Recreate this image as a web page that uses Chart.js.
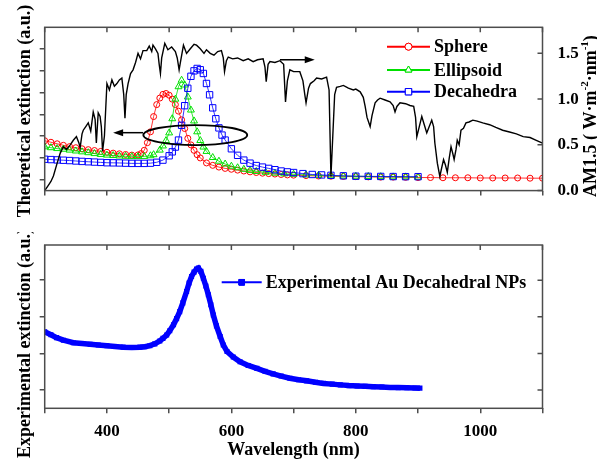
<!DOCTYPE html>
<html>
<head>
<meta charset="utf-8">
<script src="https://cdn.jsdelivr.net/npm/chart.js@4.4.1/dist/chart.umd.min.js"></script>
<style>
html, body { margin: 0; padding: 0; background: #fff; }
#wrap { position: relative; width: 597px; height: 464px; }
canvas { position: absolute; left: 0; }
#top { top: 0; }
#bottom { top: 232px; }
</style>
</head>
<body>
<div id="wrap">
<canvas id="top" width="597" height="232"></canvas>
<canvas id="bottom" width="597" height="232"></canvas>
</div>
<script>
'use strict';

// ---- data ----
const sphereNm  = [300, 310, 320, 330, 340, 350, 360, 370, 380, 390, 400, 410, 420, 430, 440, 450, 455, 460, 465, 470, 475, 480, 485, 490, 495, 500, 505, 510, 515, 520, 525, 530, 535, 540, 545, 550, 560, 570, 580, 590, 600, 610, 620, 630, 640, 650, 660, 670, 680, 690, 700, 720, 740, 760, 780, 800, 820, 840, 860, 880, 900, 920, 940, 960, 980, 1000, 1020, 1040, 1060, 1080, 1100];
const sphereVal = [2.29, 2.22, 2.15, 2.08, 2.02, 1.97, 1.92, 1.88, 1.84, 1.80, 1.76, 1.72, 1.69, 1.66, 1.63, 1.64, 1.70, 1.85, 2.20, 2.70, 3.40, 3.95, 4.25, 4.42, 4.46, 4.38, 4.20, 3.95, 3.65, 3.25, 2.85, 2.40, 2.10, 1.85, 1.65, 1.50, 1.27, 1.16, 1.08, 1.02, 0.98, 0.94, 0.90, 0.86, 0.83, 0.80, 0.78, 0.76, 0.74, 0.72, 0.71, 0.69, 0.67, 0.66, 0.65, 0.64, 0.63, 0.62, 0.62, 0.61, 0.60, 0.60, 0.59, 0.59, 0.59, 0.58, 0.58, 0.58, 0.58, 0.57, 0.57];

const ellipNm  = [300, 310, 320, 330, 340, 350, 360, 370, 380, 390, 400, 410, 420, 430, 440, 450, 460, 470, 475, 485, 490, 495, 500, 505, 510, 515, 520, 525, 530, 535, 540, 545, 550, 555, 560, 570, 580, 590, 600, 610, 620, 630, 640, 655, 670, 685, 700, 720, 740, 760, 780, 800, 820, 840, 860, 880, 900];
const ellipVal = [2.01, 1.97, 1.93, 1.90, 1.86, 1.82, 1.78, 1.74, 1.70, 1.66, 1.63, 1.61, 1.59, 1.575, 1.56, 1.56, 1.57, 1.60, 1.65, 1.86, 2.05, 2.30, 2.65, 3.30, 4.20, 4.77, 5.07, 4.85, 4.30, 3.70, 3.20, 2.70, 2.30, 2.00, 1.80, 1.52, 1.35, 1.22, 1.12, 1.05, 0.98, 0.93, 0.88, 0.84, 0.80, 0.77, 0.75, 0.72, 0.70, 0.68, 0.67, 0.66, 0.65, 0.64, 0.63, 0.63, 0.62];

const decaNm  = [300, 310, 320, 330, 340, 350, 360, 370, 380, 390, 400, 410, 420, 430, 440, 450, 460, 470, 480, 490, 500, 505, 510, 515, 520, 525, 530, 535, 540, 545, 550, 555, 560, 565, 570, 575, 580, 585, 590, 600, 610, 620, 630, 640, 650, 660, 670, 680, 690, 700, 715, 730, 745, 760, 780, 800, 820, 840, 860, 880, 900];
const decaVal = [1.44, 1.425, 1.41, 1.395, 1.38, 1.36, 1.34, 1.325, 1.31, 1.295, 1.28, 1.275, 1.27, 1.26, 1.25, 1.25, 1.25, 1.26, 1.30, 1.40, 1.60, 1.78, 2.00, 2.32, 3.00, 3.90, 4.70, 5.25, 5.50, 5.61, 5.55, 5.38, 4.92, 4.40, 3.80, 3.30, 2.88, 2.55, 2.32, 1.92, 1.62, 1.40, 1.26, 1.15, 1.08, 1.02, 0.96, 0.90, 0.86, 0.83, 0.78, 0.74, 0.72, 0.70, 0.68, 0.66, 0.655, 0.65, 0.645, 0.64, 0.64];

const am15Nm = [300, 305, 310, 314, 320, 325, 330, 335, 341, 346, 351, 355, 357, 360, 362, 366, 370, 374, 378, 381, 383, 386, 389, 391, 393, 396, 400, 404, 408, 412, 416, 420, 424, 427, 429, 431, 434, 438, 442, 446, 450, 454, 458, 464, 468, 472, 474, 478, 482, 484, 486, 488, 493, 498, 504, 510, 513, 516, 518, 523, 528, 534, 540, 544, 550, 556, 560, 566, 572, 578, 584, 587, 589, 592, 595, 602, 610, 619, 627, 635, 642, 651, 654, 656, 659, 662, 670, 678, 684, 687, 690, 694, 700, 710, 715, 718, 720, 724, 727, 733, 737, 745, 753, 757, 760, 763, 766, 769, 775, 780, 788, 796, 800, 807, 812, 815, 818, 823, 826, 831, 835, 839, 847, 855, 860, 863, 866, 871, 880, 887, 893, 896, 898, 902, 906, 910, 914, 918, 922, 925, 927, 931, 935, 938, 941, 944, 947, 950, 953, 956, 958, 961, 963, 966, 969, 973, 977, 982, 988, 995, 1004, 1015, 1025, 1036, 1047, 1058, 1069, 1080, 1090, 1100];
const am15Val = [0.00, 0.05, 0.10, 0.16, 0.30, 0.41, 0.48, 0.45, 0.50, 0.55, 0.59, 0.52, 0.47, 0.62, 0.66, 0.70, 0.74, 0.65, 0.86, 0.78, 0.52, 0.85, 0.81, 0.70, 0.43, 0.60, 1.17, 1.10, 1.21, 1.14, 1.17, 1.21, 1.23, 1.05, 0.79, 1.05, 1.17, 1.28, 1.32, 1.40, 1.50, 1.44, 1.53, 1.53, 1.58, 1.52, 1.59, 1.55, 1.50, 1.38, 1.28, 1.45, 1.61, 1.54, 1.57, 1.52, 1.45, 1.32, 1.40, 1.59, 1.50, 1.55, 1.60, 1.59, 1.55, 1.50, 1.54, 1.50, 1.48, 1.52, 1.53, 1.45, 1.30, 1.42, 1.46, 1.44, 1.45, 1.42, 1.44, 1.41, 1.43, 1.44, 1.35, 1.19, 1.38, 1.41, 1.40, 1.42, 1.38, 0.97, 1.20, 1.32, 1.30, 1.30, 1.20, 1.05, 0.96, 1.12, 1.17, 1.20, 1.23, 1.22, 1.24, 1.10, 0.155, 0.60, 1.05, 1.13, 1.14, 1.15, 1.12, 1.10, 1.11, 1.08, 1.02, 0.92, 0.80, 0.70, 0.82, 0.96, 0.99, 1.01, 0.99, 0.97, 0.93, 0.86, 0.92, 0.96, 0.95, 0.93, 0.92, 0.80, 0.59, 0.70, 0.81, 0.72, 0.63, 0.70, 0.77, 0.70, 0.52, 0.30, 0.155, 0.25, 0.34, 0.28, 0.20, 0.35, 0.48, 0.40, 0.34, 0.45, 0.55, 0.50, 0.66, 0.68, 0.74, 0.75, 0.77, 0.76, 0.74, 0.72, 0.69, 0.66, 0.64, 0.62, 0.59, 0.58, 0.55, 0.52];

const expNm  = [300, 310, 319, 330, 346, 360, 373, 386, 400, 413, 426, 440, 453, 461, 469, 477, 485, 490, 496, 501, 507, 512, 517, 522, 528, 532, 536, 540, 544, 547, 551, 555, 559, 563, 567, 571, 576, 582, 587, 593, 603, 614, 627, 641, 654, 667, 680, 694, 708, 721, 735, 748, 762, 775, 789, 802, 815, 828, 842, 855, 868, 882, 895, 903];
const expVal = [2.09, 2.01, 1.93, 1.86, 1.79, 1.77, 1.75, 1.73, 1.71, 1.69, 1.67, 1.66, 1.67, 1.68, 1.71, 1.76, 1.84, 1.91, 2.00, 2.12, 2.28, 2.45, 2.64, 2.88, 3.19, 3.42, 3.60, 3.72, 3.80, 3.83, 3.74, 3.55, 3.34, 3.10, 2.83, 2.55, 2.25, 1.96, 1.73, 1.55, 1.40, 1.27, 1.17, 1.09, 1.01, 0.94, 0.88, 0.82, 0.78, 0.75, 0.71, 0.68, 0.66, 0.64, 0.62, 0.61, 0.60, 0.59, 0.58, 0.57, 0.565, 0.56, 0.555, 0.55];

const xLabels = [400, 600, 800, 1000];
const theoTicks = [0.5, 1.5, 2.5, 3.5, 4.5, 5.5, 6.5];
const expTicks = [0.5, 1.5, 2.5, 3.5];

// annotations, in data units
const leftArrow = { from: 458, to: 410, y: 2.66 };
const rightArrow = { from: 678, to: 734, y: 1.43 };
const ring = { x: 542, y: 2.55, rx: 83.5, ry: 0.46 };

const RED = '#ff0000';
const GREEN = '#00e000';
const BLUE = '#0000ff';
const FRAME = '#4d4d4d';
const SERIF = '"Liberation Serif", "Times New Roman", serif';

Chart.defaults.font.family = SERIF;
Chart.defaults.font.weight = 'bold';
Chart.defaults.color = '#000';

const zip = (xs, ys) => xs.map((x, i) => ({ x, y: ys[i] }));

function
drawFrame(chart, yScale)
{
    const { ctx, chartArea: a, scales } = chart;
    ctx.save();
    ctx.strokeStyle = FRAME;
    ctx.lineWidth = 1.5;
    ctx.strokeRect(a.left, a.top, a.right - a.left, a.bottom - a.top);
    ctx.beginPath();
    scales.x.ticks.forEach(t => {
        const px = scales.x.getPixelForValue(t.value);
        ctx.moveTo(px, a.top);
        ctx.lineTo(px, a.top + 5);
    });
    yScale.ticks.forEach(t => {
        const py = yScale.getPixelForValue(t.value);
        ctx.moveTo(a.right, py);
        ctx.lineTo(a.right - 5, py);
    });
    ctx.stroke();
    ctx.restore();
}

// vertical text reading bottom-to-top; parts = [text, isSuperscript]
function
drawVText(ctx, parts, bx, cy, size, align)
{
    ctx.save();
    ctx.fillStyle = '#000';
    ctx.textBaseline = 'alphabetic';
    ctx.textAlign = 'left';
    const supSize = Math.round(size * 0.6);
    const widths = parts.map(([t, sup]) => {
        ctx.font = `bold ${sup ? supSize : size}px ${SERIF}`;
        return ctx.measureText(t).width;
    });
    const total = widths.reduce((s, w) => s + w, 0);
    ctx.translate(bx, cy);
    ctx.rotate(-Math.PI / 2);
    let x = align === 'start' ? 0 : -total / 2;
    parts.forEach(([t, sup], i) => {
        ctx.font = `bold ${sup ? supSize : size}px ${SERIF}`;
        ctx.fillText(t, x, sup ? -size * 0.42 : 0);
        x += widths[i];
    });
    ctx.restore();
}

function
drawArrow(ctx, x1, x2, y)
{
    const dir = Math.sign(x2 - x1);
    ctx.beginPath();
    ctx.moveTo(x1, y);
    ctx.lineTo(x2 - dir * 6, y);
    ctx.stroke();
    ctx.beginPath();
    ctx.moveTo(x2, y);
    ctx.lineTo(x2 - dir * 10, y - 3.5);
    ctx.lineTo(x2 - dir * 10, y + 3.5);
    ctx.closePath();
    ctx.fill();
}

function
legendRow(ctx, ds, x1, x2, y, text)
{
    ctx.save();
    ctx.strokeStyle = ds.borderColor;
    ctx.lineWidth = 2;
    ctx.beginPath();
    ctx.moveTo(x1, y);
    ctx.lineTo(x2, y);
    ctx.stroke();
    ctx.fillStyle = ds.legendFill || '#fff';
    ctx.lineWidth = 1;
    Chart.helpers.drawPoint(ctx, {
        pointStyle: ds.pointStyle,
        radius: ds.legendRadius,
        borderWidth: 1,
        rotation: 0,
    }, (x1 + x2) / 2, y);
    ctx.fill();
    ctx.stroke();
    ctx.fillStyle = '#000';
    ctx.font = `bold 18px ${SERIF}`;
    ctx.textBaseline = 'middle';
    ctx.textAlign = 'left';
    ctx.fillText(text, x2 + 4, y + 1);
    ctx.restore();
}

const topDecor = {
    id: 'topDecor',
    afterDatasetsDraw(chart)
    {
        const { ctx, scales } = chart;
        const x = scales.x, yL = scales.yL, yR = scales.yR;
        drawFrame(chart, yR);

        ctx.save();
        ctx.strokeStyle = '#000';
        ctx.fillStyle = '#000';
        ctx.lineWidth = 1.8;
        const cx = x.getPixelForValue(ring.x), cy = yL.getPixelForValue(ring.y);
        const rx = x.getPixelForValue(ring.x + ring.rx) - cx;
        const ry = cy - yL.getPixelForValue(ring.y + ring.ry);
        ctx.beginPath();
        ctx.ellipse(cx, cy, rx, ry, 0, 0, Math.PI * 2);
        ctx.stroke();
        ctx.lineWidth = 1.5;
        drawArrow(ctx, x.getPixelForValue(leftArrow.from), x.getPixelForValue(leftArrow.to),
            yL.getPixelForValue(leftArrow.y));
        drawArrow(ctx, x.getPixelForValue(rightArrow.from), x.getPixelForValue(rightArrow.to),
            yR.getPixelForValue(rightArrow.y));
        ctx.restore();

        const ds = chart.data.datasets;
        legendRow(ctx, ds[0], 387, 430, 46.7, ds[0].label);
        legendRow(ctx, ds[1], 387, 430, 70, ds[1].label);
        legendRow(ctx, ds[2], 387, 430, 91.7, ds[2].label);

        drawVText(ctx, [['Theoretical extinction (a.u.)', false]], 30, 111, 18, 'center');
        drawVText(ctx, [
            ['AM1.5 ( W\u00b7m', false], ['-2', true], ['\u00b7nm', false], ['-1', true], [')', false],
        ], 596, 197, 18, 'start');
    },
};

const bottomDecor = {
    id: 'bottomDecor',
    afterDatasetsDraw(chart)
    {
        const { ctx, chartArea: a } = chart;
        drawFrame(chart, chart.scales.yL);
        const ds = chart.data.datasets[0];
        legendRow(ctx, ds, 221.7, 261.7, 50.3, ds.label);
        drawVText(ctx, [['Experimental extinction (a.u.)', false]], 30, 111, 18, 'center');
        ctx.save();
        ctx.font = `bold 18px ${SERIF}`;
        ctx.textAlign = 'center';
        ctx.textBaseline = 'middle';
        ctx.fillStyle = '#000';
        ctx.fillText('Wavelength (nm)', (a.left + a.right) / 2, 218);
        ctx.restore();
    },
};

const xScale = (labelled, height) => ({
    type: 'linear',
    min: 300,
    max: 1100,
    ticks: {
        stepSize: 100,
        padding: 8,
        font: { size: 17, weight: 'bold' },
        callback: v => (labelled && xLabels.includes(v)) ? String(v) : '',
    },
    grid: { drawOnChartArea: false, tickLength: 5, color: FRAME, lineWidth: 1.5 },
    border: { display: false },
    afterFit(s) { s.height = height; },
});

const yLeft = (max, tickVals) => ({
    position: 'left',
    min: 0,
    max,
    afterBuildTicks(s) { s.ticks = tickVals.map(v => ({ value: v })); },
    ticks: { callback: () => '' },
    grid: { drawOnChartArea: false, tickLength: 5, color: FRAME, lineWidth: 1.5 },
    border: { display: false },
    afterFit(s) { s.width = 44.7; },
});

new Chart(document.getElementById('top'), {
    type: 'scatter',
    data: {
        datasets: [
            {
                label: 'Sphere', data: zip(sphereNm, sphereVal), yAxisID: 'yL', showLine: true,
                borderColor: RED, borderWidth: 0.8, pointStyle: 'circle', pointRadius: 3,
                pointBorderWidth: 1, pointBorderColor: RED, pointBackgroundColor: 'rgba(255,255,255,0)',
                legendRadius: 3.5, order: 3,
            },
            {
                label: 'Ellipsoid', data: zip(ellipNm, ellipVal), yAxisID: 'yL', showLine: true,
                borderColor: GREEN, borderWidth: 0.8, pointStyle: 'triangle', pointRadius: 4,
                pointBorderWidth: 1, pointBorderColor: GREEN, pointBackgroundColor: 'rgba(255,255,255,0)',
                legendRadius: 4, order: 2,
            },
            {
                label: 'Decahedra', data: zip(decaNm, decaVal), yAxisID: 'yL', showLine: true,
                borderColor: BLUE, borderWidth: 0.8, pointStyle: 'rect', pointRadius: 4.5,
                pointBorderWidth: 1, pointBorderColor: BLUE, pointBackgroundColor: 'rgba(255,255,255,0)',
                legendRadius: 4.5, order: 1,
            },
            {
                label: 'AM1.5', data: zip(am15Nm, am15Val), yAxisID: 'yR', showLine: true,
                borderColor: '#000', borderWidth: 1.4, pointRadius: 0, order: 0,
            },
        ],
    },
    options: {
        responsive: false,
        animation: false,
        layout: { padding: { top: 27.3, left: 0, right: 0, bottom: 0 } },
        plugins: { legend: { display: false }, tooltip: { enabled: false } },
        scales: {
            x: xScale(false, 41.4),
            yL: yLeft(7.5, theoTicks),
            yR: {
                position: 'right',
                min: 0,
                max: 1.785,
                ticks: {
                    stepSize: 0.25,
                    includeBounds: false,
                    padding: 7,
                    font: { size: 17, weight: 'bold' },
                    callback: v => Math.abs(v * 2 - Math.round(v * 2)) < 1e-6 ? v.toFixed(1) : '',
                },
                grid: { display: false },
                border: { display: false },
                afterFit(s) { s.width = 54.5; },
            },
        },
    },
    plugins: [topDecor],
});

new Chart(document.getElementById('bottom'), {
    type: 'scatter',
    data: {
        datasets: [
            {
                label: 'Experimental Au Decahedral NPs', data: zip(expNm, expVal), yAxisID: 'yL',
                showLine: true, borderColor: BLUE, borderWidth: 5.5, pointStyle: 'rect',
                pointRadius: 3.6, pointBorderWidth: 0, pointBackgroundColor: BLUE,
                legendRadius: 4, legendFill: BLUE,
            },
        ],
    },
    options: {
        responsive: false,
        animation: false,
        layout: { padding: { top: 13, left: 0, right: 54.5, bottom: 0 } },
        plugins: { legend: { display: false }, tooltip: { enabled: false } },
        scales: {
            x: xScale(true, 55.7),
            yL: yLeft(4.46, expTicks),
        },
    },
    plugins: [bottomDecor],
});
</script>
</body>
</html>
